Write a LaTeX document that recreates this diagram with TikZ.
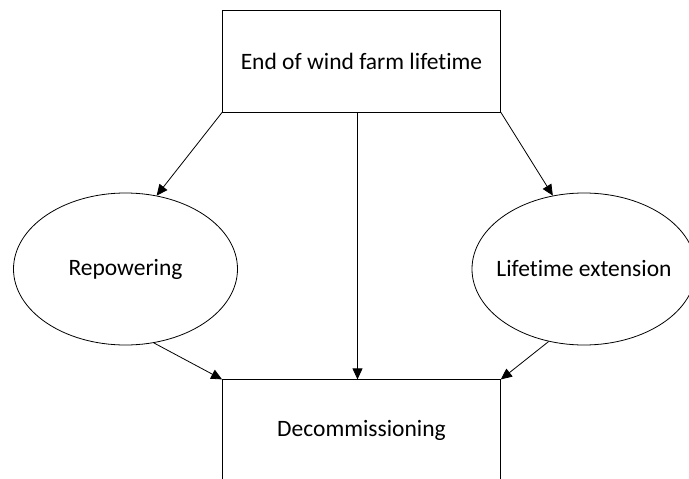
\documentclass[tikz,border=0pt]{standalone}
\usepackage{fontspec}
\setmainfont[Ligatures=NoCommon]{Carlito}
\usetikzlibrary{positioning,shapes.geometric,arrows.meta}

\begin{document}
\begin{tikzpicture}[x=1pt,y=-1pt,line width=0.8pt,
  >={Triangle[length=11pt,width=10pt]},
  every node/.style={font=\fontsize{23.5}{28}\selectfont},
  stage/.style={draw,rectangle,minimum width=278pt,minimum height=102pt,inner sep=0pt},
  option/.style={draw,ellipse,minimum width=224pt,minimum height=152pt,inner sep=0pt}]
\clip (0,0) rectangle (689,479);
\node[stage](end) at (361.5,61){End of wind farm lifetime};
\node[stage, below = 267pt of end](dec){Decommissioning};
\node[option, label=center:Repowering](rep) at (125.5,269){};
\node[option, label=center:Lifetime extension](ext) at (584,269){};
\path (end.south west) edge[->] (rep.67);
\path ([xshift=-4pt]end.south) edge[->] ([xshift=-4pt]dec.north);
\path (end.south east) edge[->] (ext.113);
\path (rep.291) edge[->] (dec.north west);
\path (ext.244) edge[->] (dec.north east);
\end{tikzpicture}
\end{document}
